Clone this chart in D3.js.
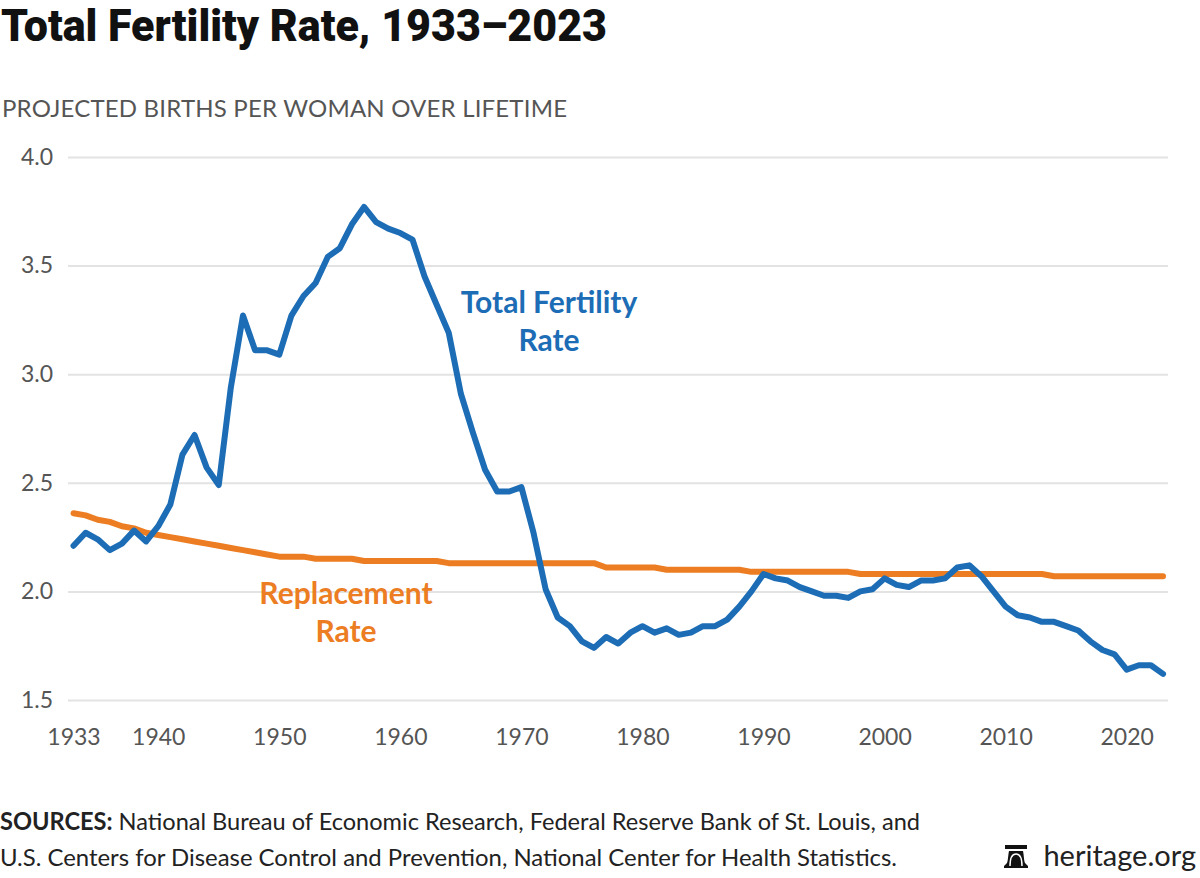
<!DOCTYPE html>
<html>
<head>
<meta charset="utf-8">
<script src="https://cdn.jsdelivr.net/npm/d3@7"></script>
<style>
  body { margin: 0; background: #fff; }
  svg { display: block; }
</style>
</head>
<body>
<svg id="chart" width="1200" height="878"></svg>
<script>
// data
const years = d3.range(1933, 2024);
const fertility = [
  2.21, 2.27, 2.24, 2.19, 2.22, 2.28, 2.23, 2.30, 2.40, 2.63,
  2.72, 2.57, 2.49, 2.94, 3.27, 3.11, 3.11, 3.09, 3.27, 3.36,
  3.42, 3.54, 3.58, 3.69, 3.77, 3.70, 3.67, 3.65, 3.62, 3.45,
  3.32, 3.19, 2.91, 2.73, 2.56, 2.46, 2.46, 2.48, 2.27, 2.01,
  1.88, 1.84, 1.77, 1.74, 1.79, 1.76, 1.81, 1.84, 1.81, 1.83,
  1.80, 1.81, 1.84, 1.84, 1.87, 1.93, 2.00, 2.08, 2.06, 2.05,
  2.02, 2.00, 1.98, 1.98, 1.97, 2.00, 2.01, 2.06, 2.03, 2.02,
  2.05, 2.05, 2.06, 2.11, 2.12, 2.07, 2.00, 1.93, 1.89, 1.88,
  1.86, 1.86, 1.84, 1.82, 1.77, 1.73, 1.71, 1.64, 1.66, 1.66,
  1.62
];
const replacement = [
  2.36, 2.35, 2.33, 2.32, 2.30, 2.29, 2.27, 2.26, 2.25, 2.24,
  2.23, 2.22, 2.21, 2.20, 2.19, 2.18, 2.17, 2.16, 2.16, 2.16,
  2.15, 2.15, 2.15, 2.15, 2.14, 2.14, 2.14, 2.14, 2.14, 2.14,
  2.14, 2.13, 2.13, 2.13, 2.13, 2.13, 2.13, 2.13, 2.13, 2.13,
  2.13, 2.13, 2.13, 2.13, 2.11, 2.11, 2.11, 2.11, 2.11, 2.10,
  2.10, 2.10, 2.10, 2.10, 2.10, 2.10, 2.09, 2.09, 2.09, 2.09,
  2.09, 2.09, 2.09, 2.09, 2.09, 2.08, 2.08, 2.08, 2.08, 2.08,
  2.08, 2.08, 2.08, 2.08, 2.08, 2.08, 2.08, 2.08, 2.08, 2.08,
  2.08, 2.07, 2.07, 2.07, 2.07, 2.07, 2.07, 2.07, 2.07, 2.07,
  2.07
];
const yTicks = [1.5, 2.0, 2.5, 3.0, 3.5, 4.0];
const xTicks = [1933, 1940, 1950, 1960, 1970, 1980, 1990, 2000, 2010, 2020];

const BLUE = '#1c6db5';
const ORANGE = '#ec7d22';
const GREY_TEXT = '#555';

const svg = d3.select('#chart');

const x = d3.scaleLinear().domain([1933, 2023]).range([73.5, 1163]);
const y = d3.scaleLinear().domain([1.5, 4.0]).range([700, 157]);

//*********** titles ***********//
svg.append('text')
  .attr('x', 1).attr('y', 41)
  .attr('font-family', 'Roboto, sans-serif')
  .attr('font-weight', 900)
  .attr('font-size', 44)
  .attr('fill', '#111')
  .attr('textLength', 606)
  .attr('lengthAdjust', 'spacingAndGlyphs')
  .text('Total Fertility Rate, 1933\u20132023');

svg.append('text')
  .attr('x', 2).attr('y', 117)
  .attr('font-family', 'Lato, sans-serif')
  .attr('font-size', 24)
  .attr('fill', GREY_TEXT)
  .attr('textLength', 565)
  .text('PROJECTED BIRTHS PER WOMAN OVER LIFETIME');

//*********** grid + y axis ***********//
const yAxis = d3.axisLeft(y)
  .tickValues(yTicks)
  .tickSize(-1100)
  .tickPadding(15)
  .tickFormat(d3.format('.1f'));

const yG = svg.append('g')
  .attr('transform', 'translate(68,0)')
  .call(yAxis);
yG.select('.domain').remove();
yG.selectAll('.tick line').attr('stroke', '#e3e3e3').attr('stroke-width', 2);
yG.selectAll('.tick text')
  .attr('x', -15)
  .attr('font-family', 'Lato, sans-serif')
  .attr('font-size', 23)
  .attr('fill', GREY_TEXT);

//*********** x axis ***********//
const xAxis = d3.axisBottom(x)
  .tickValues(xTicks)
  .tickSize(0)
  .tickFormat(d3.format('d'));

const xG = svg.append('g')
  .attr('transform', 'translate(0,726)')
  .call(xAxis);
xG.select('.domain').remove();
xG.selectAll('.tick text')
  .attr('font-family', 'Lato, sans-serif')
  .attr('font-size', 23)
  .attr('fill', GREY_TEXT);

//*********** lines ***********//
const line = d3.line()
  .x((d, i) => x(years[i]))
  .y(d => y(d));

svg.append('path')
  .datum(replacement)
  .attr('d', line)
  .attr('fill', 'none')
  .attr('stroke', ORANGE)
  .attr('stroke-width', 6)
  .attr('stroke-linejoin', 'round')
  .attr('stroke-linecap', 'round');

svg.append('path')
  .datum(fertility)
  .attr('d', line)
  .attr('fill', 'none')
  .attr('stroke', BLUE)
  .attr('stroke-width', 6)
  .attr('stroke-linejoin', 'round')
  .attr('stroke-linecap', 'round');

//*********** line labels ***********//
function label(lines, cx, cy, color) {
  const t = svg.append('text')
    .attr('text-anchor', 'middle')
    .attr('font-family', 'Lato, sans-serif')
    .attr('font-weight', 700)
    .attr('font-size', 30)
    .attr('fill', color);
  lines.forEach((s, i) => {
    t.append('tspan').attr('x', cx).attr('y', cy + i * 38).text(s);
  });
}
label(['Total Fertility', 'Rate'], 549, 313, BLUE);
label(['Replacement', 'Rate'], 346, 604, ORANGE);

//*********** sources ***********//
const src = svg.append('g')
  .attr('font-family', 'Lato, sans-serif')
  .attr('font-size', 24)
  .attr('fill', '#222');

const s1 = src.append('text').attr('x', 0).attr('y', 830)
  .attr('textLength', 920).attr('lengthAdjust', 'spacingAndGlyphs');
s1.append('tspan').attr('font-weight', 700).text('SOURCES:');
s1.append('tspan').text(' National Bureau of Economic Research, Federal Reserve Bank of St. Louis, and');

src.append('text').attr('x', 0).attr('y', 866)
  .attr('textLength', 897).attr('lengthAdjust', 'spacingAndGlyphs')
  .text('U.S. Centers for Disease Control and Prevention, National Center for Health Statistics.');

// heritage bell + url
const bell = svg.append('g').attr('fill', '#111');
bell.append('rect').attr('x', 1005).attr('y', 845).attr('width', 22).attr('height', 4);
bell.append('path')
  .attr('d', 'M1009,851 h14 c1,5 1,10 2,12 l3,3 v2 h-24 v-2 l3,-3 c1,-2 1,-7 2,-12 z');
bell.append('path')
  .attr('d', 'M1010,866 c0,-8 2,-12 6,-12 c4,0 6,4 6,12')
  .attr('fill', 'none')
  .attr('stroke', '#fff')
  .attr('stroke-width', 1.5);

svg.append('text')
  .attr('x', 1196).attr('y', 866)
  .attr('text-anchor', 'end')
  .attr('font-family', 'Lato, sans-serif')
  .attr('font-size', 29)
  .attr('fill', '#222')
  .text('heritage.org');
</script>
</body>
</html>
